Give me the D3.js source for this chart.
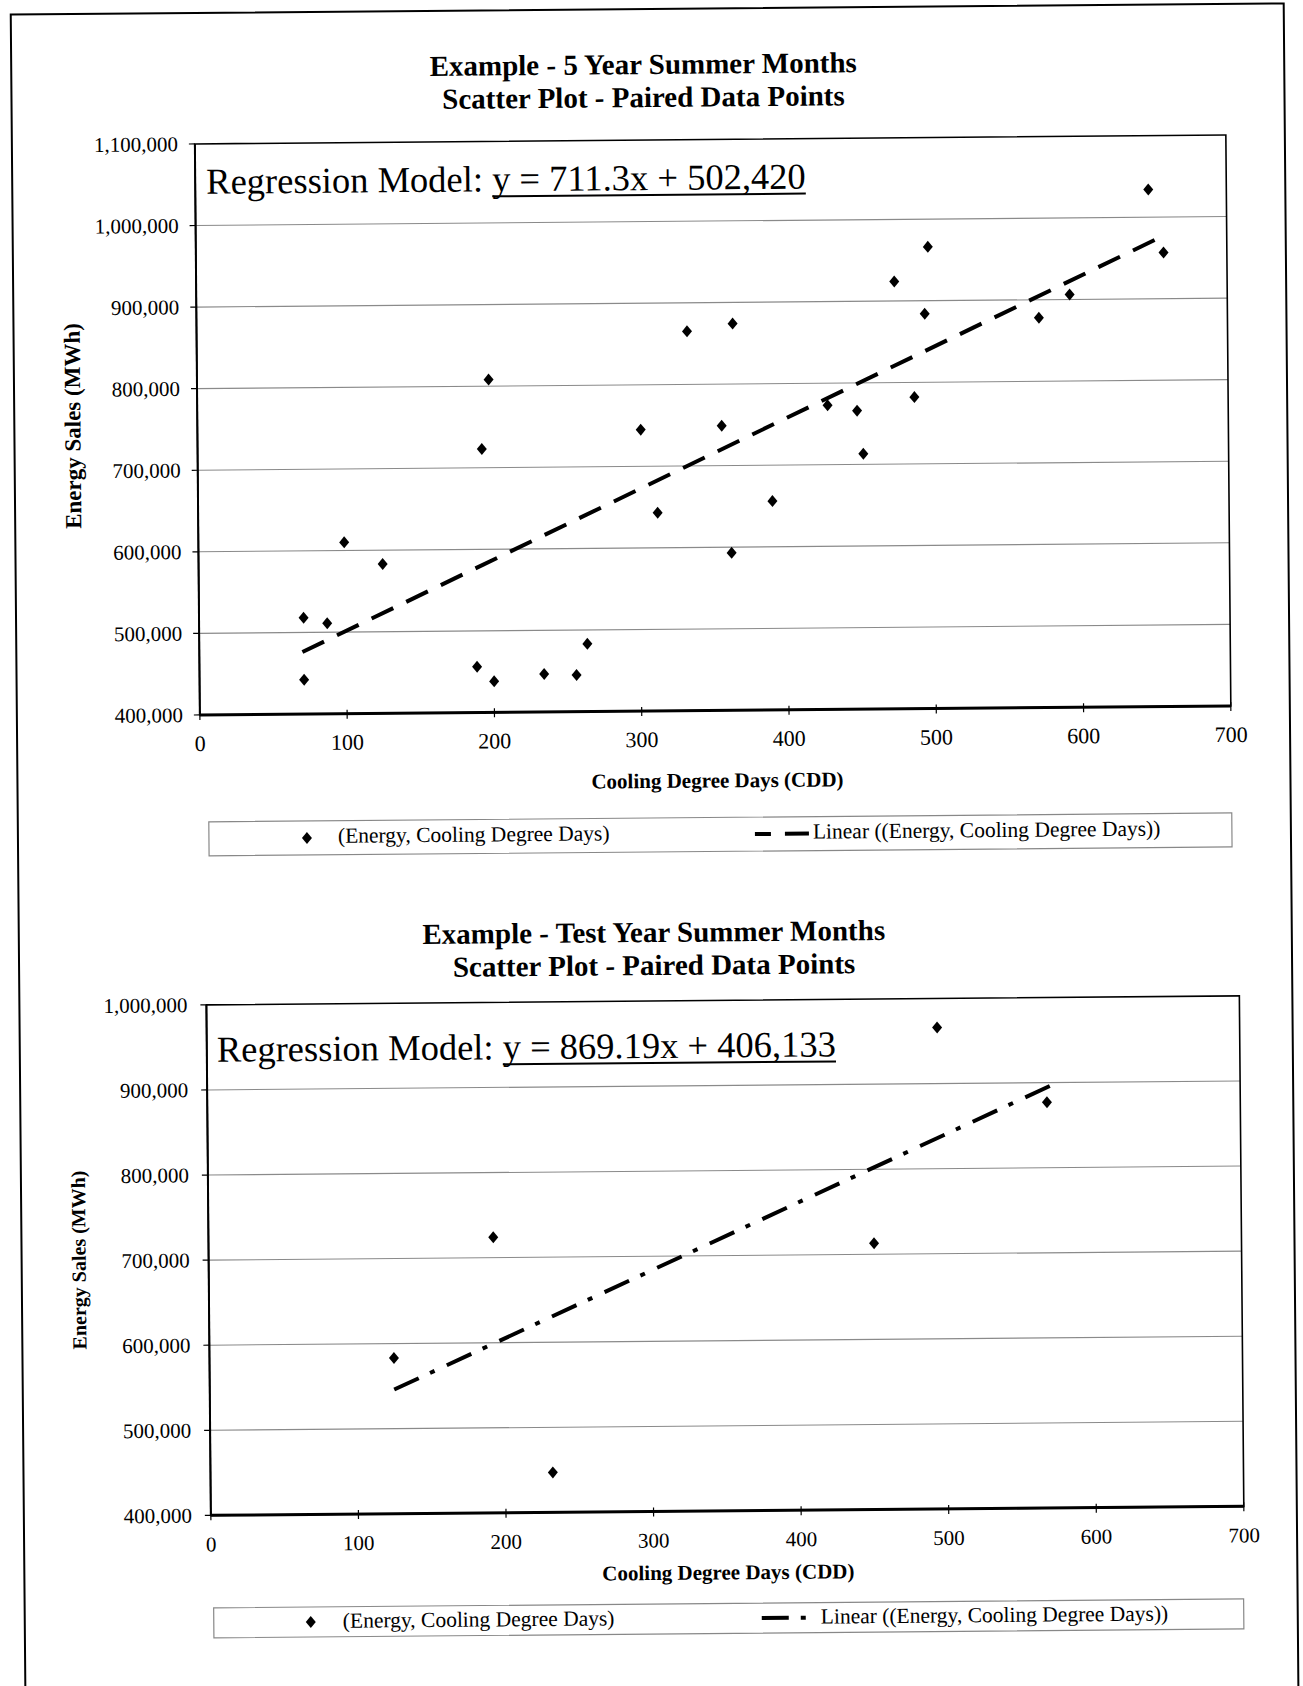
<!DOCTYPE html>
<html>
<head>
<meta charset="utf-8">
<script src="https://cdn.jsdelivr.net/npm/d3@7"></script>
<style>
  body { margin: 0; background: #fff; }
  svg { display: block; }
  text { font-family: "Liberation Serif", "Times New Roman", serif; fill: #000; }
</style>
</head>
<body>
<svg id="c" width="1303" height="1686"></svg>
<script>
// ---------- DATA ----------
// Chart 1: 5 Year Summer Months
const cdd5 = [71, 71, 87, 99, 125, 188.5, 193, 198, 200, 234, 256, 263.5, 301, 312, 333,
              364, 356, 390, 362, 428, 448, 452, 474, 497, 494.5, 487, 572, 593, 647, 657];
const energy5 = [518000, 442000, 511000, 610000, 583000, 456000, 723000, 808000, 438000, 446500,
                 445000, 483000, 745000, 643000, 865000, 874000, 749000, 656000, 593000, 773000,
                 766000, 713000, 924000, 966000, 884000, 782000, 878000, 906000, 1034000, 956500];
const trend5X = [70, 651];
const trend5Y = [476000, 972000];
const yTicks5 = [400000, 500000, 600000, 700000, 800000, 900000, 1000000, 1100000];

// Chart 2: Test Year Summer Months
const cddTest = [125, 193, 232, 451, 495, 569];
const energyTest = [583000, 724000, 447000, 713000, 966000, 877000];
const trendTestX = [125, 571];
const trendTestY = [546000, 896000];
const yTicksTest = [400000, 500000, 600000, 700000, 800000, 900000, 1000000];

const xTicks = [0, 100, 200, 300, 400, 500, 600, 700];

const titles5 = ["Example - 5 Year Summer Months", "Scatter Plot - Paired Data Points"];
const titlesTest = ["Example - Test Year Summer Months", "Scatter Plot - Paired Data Points"];
const eqLabel = "Regression Model: ";
const eq5 = "y = 711.3x + 502,420";
const eqTest = "y = 869.19x + 406,133";
const xTitle = "Cooling Degree Days (CDD)";
const yTitle = "Energy Sales (MWh)";
const legendSeries = "(Energy, Cooling Degree Days)";
const legendTrend = "Linear ((Energy, Cooling Degree Days))";

// ---------- DRAW ----------
const svg = d3.select("#c");
svg.append("rect").attr("width", 1303).attr("height", 1686).attr("fill", "#fff");
const root = svg.append("g").attr("transform", "rotate(-0.5 651 843)");

root.append("rect")
  .attr("x", 18).attr("y", 9).attr("width", 1273).attr("height", 1690)
  .attr("fill", "none").attr("stroke", "#000").attr("stroke-width", 2);

const diamond = "M0,-6L5,0L0,6L-5,0Z";

// stretch a dash pattern slightly so that the line ends on a dash
function fitDash(len, pattern) {
  const dash = pattern[0];
  const period = d3.sum(pattern);
  const n = Math.max(1, Math.round((len - dash) / period));
  const k = (len - dash) / n / period;
  return pattern.map((v, i) => (i % 2 === 0 ? v : v * k)).map((v, i) => i === 0 ? v : v)
    .map((v, i, a) => {
      // keep dashes fixed, scale only gaps so the period fits
      if (i % 2 === 0) return v;
      const gapsTotal = d3.sum(a.filter((_, j) => j % 2 === 1));
      const dashesTotal = d3.sum(pattern.filter((_, j) => j % 2 === 0));
      const target = (len - dash) / n - dashesTotal;
      return pattern[i] * target / d3.sum(pattern.filter((_, j) => j % 2 === 1));
    }).join(" ");
}

function drawChart(cfg) {
  const g = root.append("g");
  const x = d3.scaleLinear().domain([0, 700]).range([cfg.left, cfg.right]);
  const y = d3.scaleLinear().domain([cfg.yTicks[0], cfg.yTicks[cfg.yTicks.length - 1]])
              .range([cfg.bottom, cfg.top]);

  // titles
  g.selectAll("text.title").data(cfg.titles).join("text")
    .attr("class", "title")
    .attr("x", cfg.titleX).attr("y", (d, i) => cfg.titleY[i])
    .attr("text-anchor", "middle").attr("font-weight", "bold")
    .attr("font-size", 29).text(d => d);

  // gridlines
  g.selectAll("line.grid").data(cfg.yTicks.slice(1, -1)).join("line")
    .attr("class", "grid")
    .attr("x1", cfg.left).attr("x2", cfg.right)
    .attr("y1", d => y(d)).attr("y2", d => y(d))
    .attr("stroke", "#8a8a8a").attr("stroke-width", 1.1);

  // plot frame
  g.append("rect")
    .attr("x", cfg.left).attr("y", cfg.top)
    .attr("width", cfg.right - cfg.left).attr("height", cfg.bottom - cfg.top)
    .attr("fill", "none").attr("stroke", "#000").attr("stroke-width", 1.6);
  g.append("line").attr("x1", cfg.left).attr("x2", cfg.left)
    .attr("y1", cfg.top).attr("y2", cfg.bottom)
    .attr("stroke", "#000").attr("stroke-width", 2);
  g.append("line").attr("x1", cfg.left).attr("x2", cfg.right)
    .attr("y1", cfg.bottom).attr("y2", cfg.bottom)
    .attr("stroke", "#000").attr("stroke-width", 3);

  // y ticks
  g.selectAll("line.yt").data(cfg.yTicks).join("line")
    .attr("class", "yt")
    .attr("x1", cfg.left - 6).attr("x2", cfg.left)
    .attr("y1", d => y(d)).attr("y2", d => y(d))
    .attr("stroke", "#000").attr("stroke-width", 1.2);
  g.selectAll("text.yl").data(cfg.yTicks).join("text")
    .attr("class", "yl")
    .attr("x", cfg.left - cfg.yLabelGap).attr("y", d => y(d))
    .attr("dy", "0.34em").attr("text-anchor", "end")
    .attr("font-size", cfg.yTickSize).text(d3.format(","));

  // x ticks
  g.selectAll("line.xt").data(xTicks).join("line")
    .attr("class", "xt")
    .attr("x1", d => x(d)).attr("x2", d => x(d))
    .attr("y1", cfg.bottom - 4).attr("y2", cfg.bottom + 5)
    .attr("stroke", "#000").attr("stroke-width", 1.2);
  g.selectAll("text.xl").data(xTicks).join("text")
    .attr("class", "xl")
    .attr("x", d => x(d)).attr("y", cfg.bottom + cfg.xLabelOffset)
    .attr("text-anchor", "middle").attr("font-size", cfg.xTickSize).text(d => d);

  // axis titles
  g.append("text").attr("x", cfg.xTitleX).attr("y", cfg.xTitleY)
    .attr("text-anchor", "middle").attr("font-weight", "bold")
    .attr("font-size", 21).text(xTitle);
  g.append("text")
    .attr("transform", `translate(${cfg.yTitleX},${cfg.yTitleY}) rotate(-90)`)
    .attr("text-anchor", "middle").attr("dy", "0.35em").attr("font-weight", "bold")
    .attr("font-size", cfg.yTitleSize).text(yTitle);

  // regression label
  const eqText = g.append("text").attr("x", cfg.eqX).attr("y", cfg.eqY)
    .attr("font-size", cfg.eqSize).style("white-space", "pre");
  eqText.append("tspan").text(eqLabel);
  const eqSpan = eqText.append("tspan").text(cfg.eq);
  const fullLen = eqText.node().getComputedTextLength();
  const eqLen = eqSpan.node().getComputedTextLength();
  g.append("line")
    .attr("x1", cfg.eqX + fullLen - eqLen).attr("x2", cfg.eqX + fullLen)
    .attr("y1", cfg.eqY + 5).attr("y2", cfg.eqY + 5)
    .attr("stroke", "#000").attr("stroke-width", 2);

  // trend line
  const trendData = cfg.trendX.map((v, i) => [v, cfg.trendY[i]]);
  const tx0 = x(trendData[0][0]), ty0 = y(trendData[0][1]);
  const tx1 = x(trendData[1][0]), ty1 = y(trendData[1][1]);
  const tLen = Math.hypot(tx1 - tx0, ty1 - ty0);
  g.append("path")
    .attr("d", d3.line().x(d => x(d[0])).y(d => y(d[1]))(trendData))
    .attr("fill", "none").attr("stroke", "#000").attr("stroke-width", 4)
    .attr("stroke-dasharray", fitDash(tLen, cfg.dash));

  // points
  g.selectAll("path.pt").data(cfg.xs.map((v, i) => [v, cfg.ys[i]])).join("path")
    .attr("class", "pt")
    .attr("d", diamond)
    .attr("transform", d => `translate(${x(d[0])},${y(d[1])})`)
    .attr("fill", "#000");

  // legend
  const L = cfg.legend;
  g.append("rect").attr("x", L.x0).attr("y", L.y0)
    .attr("width", L.x1 - L.x0).attr("height", L.y1 - L.y0)
    .attr("fill", "none").attr("stroke", "#888").attr("stroke-width", 1.2);
  g.append("path").attr("d", diamond)
    .attr("transform", `translate(${L.diamondX},${L.symY})`).attr("fill", "#000");
  g.append("text").attr("x", L.textX).attr("y", L.baseline)
    .attr("font-size", 21.5).text(legendSeries);
  g.append("line").attr("x1", L.lineX0).attr("x2", L.lineX1)
    .attr("y1", L.symY).attr("y2", L.symY)
    .attr("stroke", "#000").attr("stroke-width", 4)
    .attr("stroke-dasharray", cfg.dash.join(" ")).attr("stroke-dashoffset", L.dashOffset);
  g.append("text").attr("x", L.text2X).attr("y", L.baseline)
    .attr("font-size", 21.5).text(legendTrend);
}

drawChart({
  titles: titles5, titleX: 650, titleY: [74, 107],
  left: 201, right: 1232, top: 140, bottom: 711,
  yTicks: yTicks5, yLabelGap: 17, yTickSize: 21, xTickSize: 22, xLabelOffset: 36,
  xs: cdd5, ys: energy5, trendX: trend5X, trendY: trend5Y, dash: [24, 14],
  eq: eq5, eqX: 212, eqY: 190, eqSize: 36.5,
  xTitleX: 718, xTitleY: 788,
  yTitleX: 76, yTitleY: 421, yTitleSize: 23,
  legend: { x0: 209, x1: 1232, y0: 818, y1: 852, diamondX: 307, symY: 835, textX: 338,
            lineX0: 755, lineX1: 810, dashOffset: 8, text2X: 813, baseline: 840 }
});

drawChart({
  titles: titlesTest, titleX: 653, titleY: [942, 975],
  left: 205, right: 1238, top: 1001, bottom: 1511.5,
  yTicks: yTicksTest, yLabelGap: 19, yTickSize: 21, xTickSize: 21, xLabelOffset: 36,
  xs: cddTest, ys: energyTest, trendX: trendTestX, trendY: trendTestY, dash: [27, 12, 5, 13],
  eq: eqTest, eqX: 215, eqY: 1058, eqSize: 36.5,
  xTitleX: 722, xTitleY: 1580,
  yTitleX: 75, yTitleY: 1255, yTitleSize: 20,
  legend: { x0: 207, x1: 1237, y0: 1604, y1: 1634, diamondX: 304, symY: 1619, textX: 336,
            lineX0: 755, lineX1: 801, dashOffset: 0, text2X: 814, baseline: 1625 }
});
</script>
</body>
</html>
